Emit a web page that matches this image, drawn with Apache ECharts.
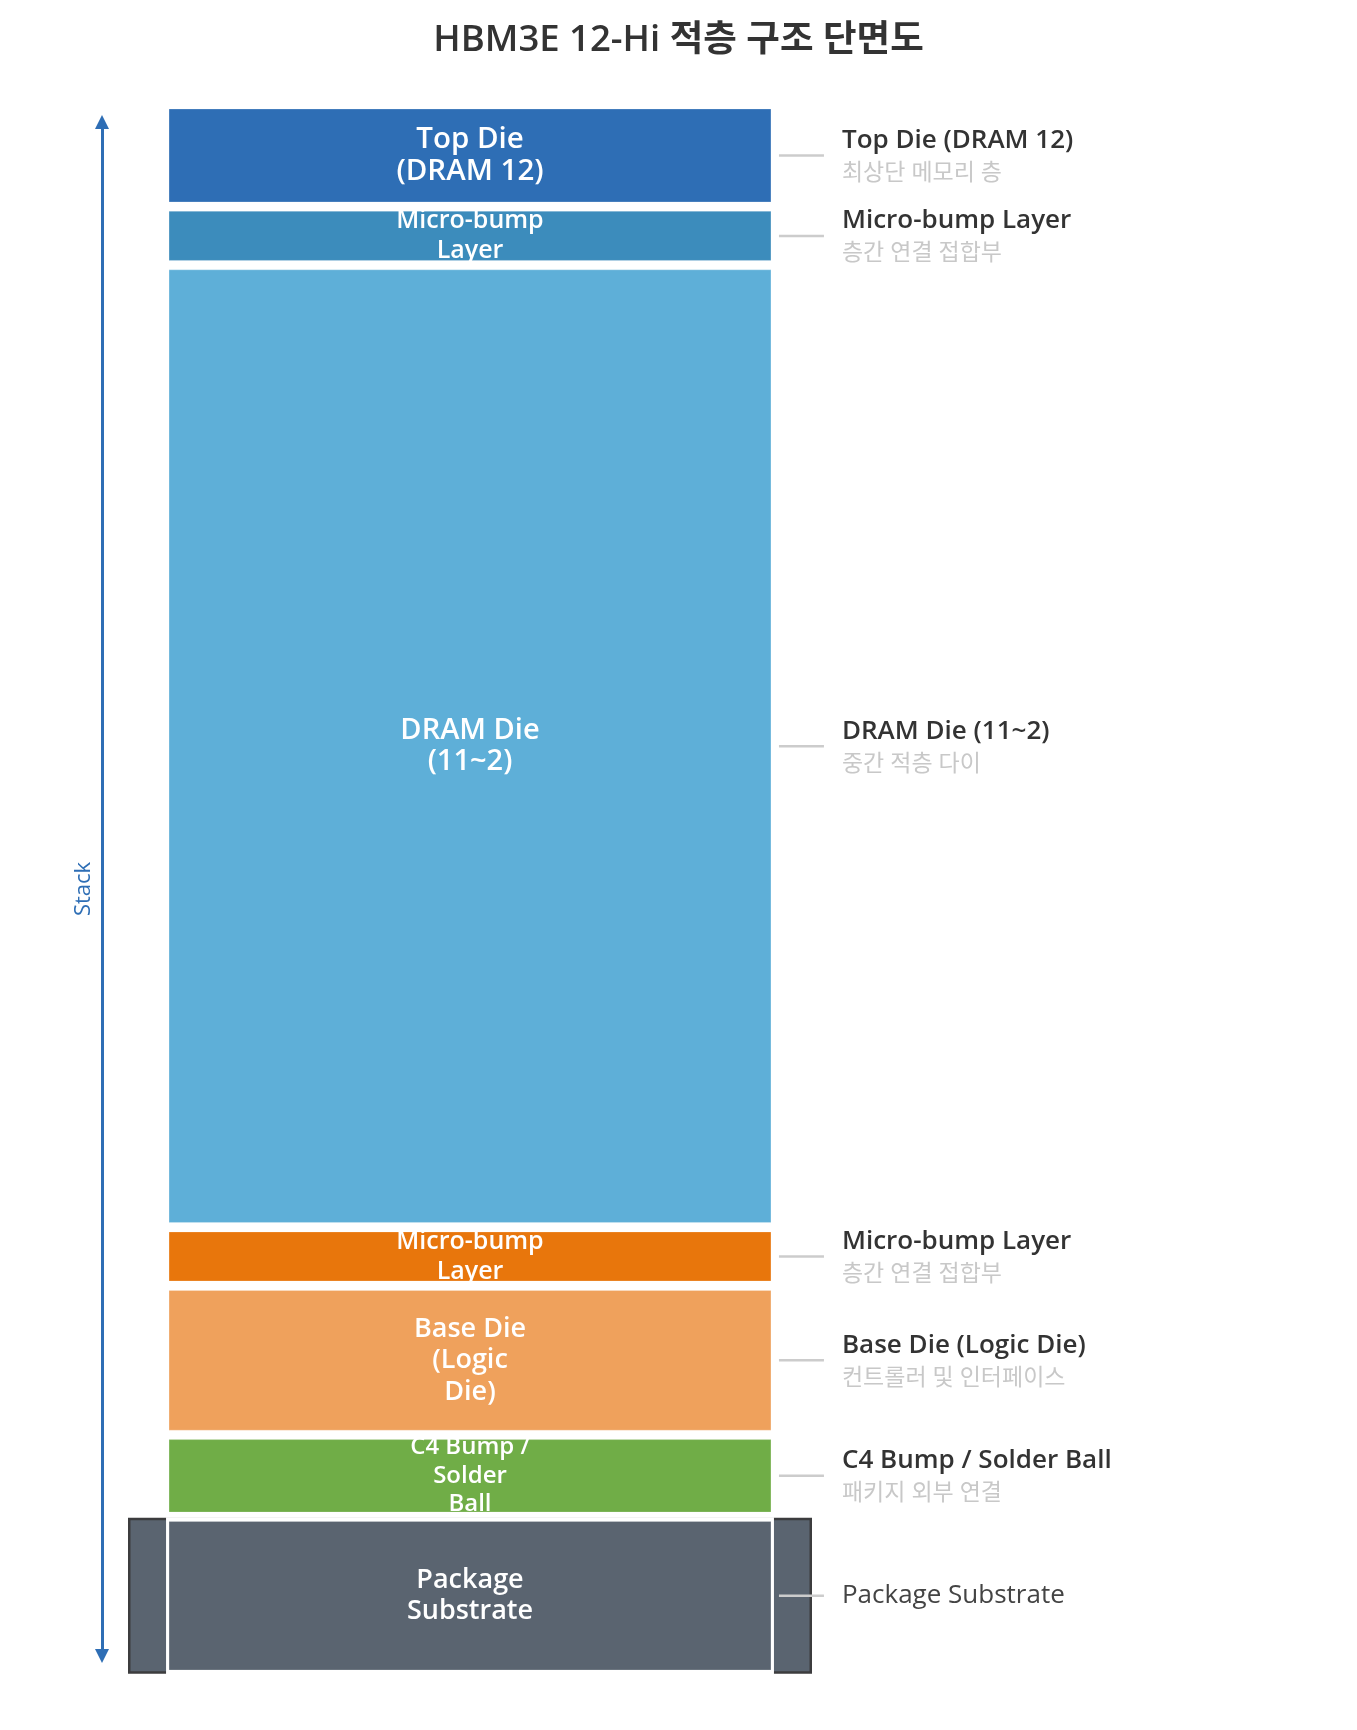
<!DOCTYPE html>
<html>
<head>
<meta charset="utf-8">
<script src="https://cdn.jsdelivr.net/npm/echarts@6/dist/echarts.min.js"></script>
<style>
html,body{margin:0;padding:0;background:#fff;}
#chart{width:1357px;height:1730px;}
</style>
</head>
<body>
<div id="chart"></div>
<script>
// Layers listed from bottom (package) to top (top die)
const layerNames = ['Package Substrate', 'C4 Bump / Solder Ball', 'Base Die (Logic Die)', 'Micro-bump Layer', 'DRAM Die (11~2)', 'Micro-bump Layer', 'Top Die (DRAM 12)'];
const innerLabels = ['Package\nSubstrate', 'C4 Bump /\nSolder\nBall', 'Base Die\n(Logic\nDie)', 'Micro-bump\nLayer', 'DRAM Die\n(11~2)', 'Micro-bump\nLayer', 'Top Die\n(DRAM 12)'];
const subLabels = ['', '패키지 외부 연결', '컨트롤러 및 인터페이스', '층간 연결 접합부', '중간 적층 다이', '층간 연결 접합부', '최상단 메모리 층'];
const thickness = [54, 28, 51, 20, 329, 20, 35];
const category = ['HBM3E 12-Hi'];

// styles (kept apart from the data)
const layerColors = ['#5a6470', '#70ad47', '#efa15c', '#e8760c', '#5eafd8', '#3c8cbc', '#2e6eb5'];
const innerFontSizes = [27, 24, 27, 25, 29, 25, 29.5];
const FONT = "'Open Sans', 'Noto Sans', 'Noto Sans CJK KR', sans-serif";

// build [category, start, end, index] rows from the thickness list
const rows = [];
let acc = 0;
thickness.forEach(function (t, i) {
  rows.push([0, acc, acc + t, i]);
  acc += t;
});
const total = acc;

function renderItem(params, api) {
  const i = api.value(3);
  const pBot = api.coord([api.value(0), api.value(1)]);
  const pTop = api.coord([api.value(0), api.value(2)]);
  const band = api.size([1, 0])[0];
  const cx = pBot[0];
  const bw = band * 0.88;
  const x0 = cx - bw / 2;
  const gap = 4.7;
  const yTop = pTop[1] + gap;
  const yBot = pBot[1] - gap;
  const h = yBot - yTop;
  const ymid = (yTop + yBot) / 2;
  const children = [];
  if (i === 0) {
    children.push({
      type: 'rect',
      shape: { x: cx - band / 2 + 1.25, y: pTop[1] + 2.2, width: band - 2.5, height: (pBot[1] - pTop[1]) - 4.4 },
      style: { fill: '#5a6470', stroke: '#3c3c3e', lineWidth: 2.5 }
    });
    children.push({
      type: 'rect',
      shape: { x: x0 - 3, y: pTop[1] + 0.5, width: bw + 6, height: (pBot[1] - pTop[1]) - 1 },
      style: { fill: '#ffffff' }
    });
  }
  children.push({
    type: 'rect',
    shape: { x: x0, y: yTop, width: bw, height: h },
    style: { fill: layerColors[i], stroke: 'rgba(255,255,255,0.22)', lineWidth: 1 }
  });
  const fs = innerFontSizes[i];
  children.push({
    type: 'text',
    x: cx, y: ymid,
    style: {
      text: innerLabels[i],
      fill: '#ffffff',
      font: '600 ' + fs + 'px ' + FONT,
      lineHeight: Math.min(31.5, fs * 1.2),
      align: 'center',
      verticalAlign: 'middle'
    }
  });
  const lx = x0 + bw;
  children.push({
    type: 'line',
    shape: { x1: lx + 8, y1: ymid, x2: lx + 53, y2: ymid },
    style: { stroke: '#cccccc', lineWidth: 2.5 }
  });
  if (subLabels[i]) {
    children.push({
      type: 'text', x: lx + 71, y: ymid - 15,
      style: { text: layerNames[i], fill: '#333333', font: '600 26px ' + FONT, align: 'left', verticalAlign: 'middle' }
    });
    children.push({
      type: 'text', x: lx + 71, y: ymid + 18,
      style: { text: subLabels[i], fill: '#c8c8c8', font: 'normal 23px ' + FONT, align: 'left', verticalAlign: 'middle' }
    });
  } else {
    children.push({
      type: 'text', x: lx + 71, y: ymid,
      style: { text: layerNames[i], fill: '#444444', font: 'normal 26px ' + FONT, align: 'left', verticalAlign: 'middle' }
    });
  }
  return { type: 'group', children: children };
}

const chart = echarts.init(document.getElementById('chart'), null, { renderer: 'canvas' });
chart.setOption({
  backgroundColor: '#ffffff',
  animation: false,
  title: {
    text: 'HBM3E 12-Hi 적층 구조 단면도',
    left: 'center',
    top: 17,
    textStyle: { fontFamily: FONT, fontSize: 36.5, fontWeight: 600, color: '#333333' }
  },
  grid: [
    { left: 128, right: 545, top: 104.3, bottom: 55.3 },
    { left: 102, width: 1, top: 122, bottom: 74 }
  ],
  xAxis: [
    { type: 'category', gridIndex: 0, data: category, show: false },
    { type: 'value', gridIndex: 1, show: false }
  ],
  yAxis: [
    { type: 'value', gridIndex: 0, min: 0, max: total, show: false },
    {
      type: 'value', gridIndex: 1, min: 0, max: 1,
      name: 'Stack', nameLocation: 'middle', nameRotate: 90, nameGap: 7,
      nameTextStyle: { color: '#2e6eb5', fontSize: 22, fontFamily: FONT },
      axisLine: { show: true, symbol: ['triangle', 'triangle'], symbolSize: [14, 14], lineStyle: { color: '#2e6eb5', width: 3 } },
      axisTick: { show: false }, axisLabel: { show: false }, splitLine: { show: false }
    }
  ],
  series: [
    {
      type: 'custom',
      xAxisIndex: 0, yAxisIndex: 0,
      renderItem: renderItem,
      encode: { x: 0, y: [1, 2] },
      data: rows,
      clip: false
    }
  ]
});
</script>
</body>
</html>
